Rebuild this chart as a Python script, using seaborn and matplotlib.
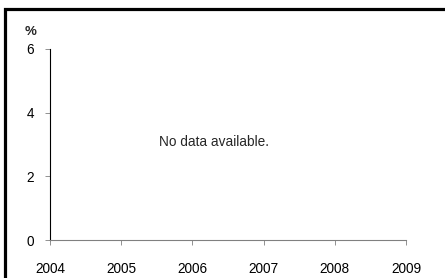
import matplotlib
matplotlib.use("Agg")
import matplotlib.pyplot as plt
import matplotlib.patches as mpatches
import seaborn as sns
import pandas as pd
import numpy as np

# chart data: no values reported for these years
years = [2004, 2005, 2006, 2007, 2008, 2009]
values = [np.nan] * len(years)
y_ticks = [0, 2, 4, 6]

sns.set_theme(style="white")
plt.rcParams["font.family"] = ["Liberation Sans", "DejaVu Sans"]

df = pd.DataFrame({"year": years, "value": values})

fig = plt.figure(figsize=(4.45, 2.78), dpi=100)
ax = fig.add_axes([50 / 445, 38 / 278, 356 / 445, 191 / 278])

sns.lineplot(data=df, x="year", y="value", ax=ax, color="black")

ax.set_xlim(years[0], years[-1])
ax.set_ylim(y_ticks[0], y_ticks[-1])
ax.set_xticks(years)
ax.set_yticks(y_ticks)
ax.set_xticklabels([str(y) for y in years], fontsize=9.8)
ax.set_yticklabels([str(t) for t in y_ticks], fontsize=9.8)
ax.set_xlabel("")
ax.set_ylabel("")

for side in ["top", "right"]:
    ax.spines[side].set_visible(False)
ax.spines["left"].set_color("black")
ax.spines["left"].set_linewidth(0.8)
ax.spines["bottom"].set_color("#808080")
ax.spines["bottom"].set_linewidth(0.8)

ax.tick_params(axis="both", which="major", bottom=True, left=True,
               length=3.5, width=0.6, color="#808080",
               labelcolor="black", direction="out")
ax.tick_params(axis="y", pad=8)
ax.tick_params(axis="x", pad=12)

# unit label above the y axis
ax.text(-19 / 356, 1.09, "%", transform=ax.transAxes, fontsize=9.5,
        fontweight="bold", ha="center", va="center")

ax.text(0.46, 0.513, "No data available.", transform=ax.transAxes,
        fontsize=9.8, ha="center", va="center")

# thick frame around the chart, cut off at right and bottom
frame = mpatches.Rectangle((4.5 / 445, -0.2), 1.2, 1.2 - 9 / 278,
                           transform=fig.transFigure, fill=False,
                           edgecolor="black", linewidth=2.3, clip_on=False)
fig.patches.append(frame)

fig.savefig("out.png", dpi=100)
